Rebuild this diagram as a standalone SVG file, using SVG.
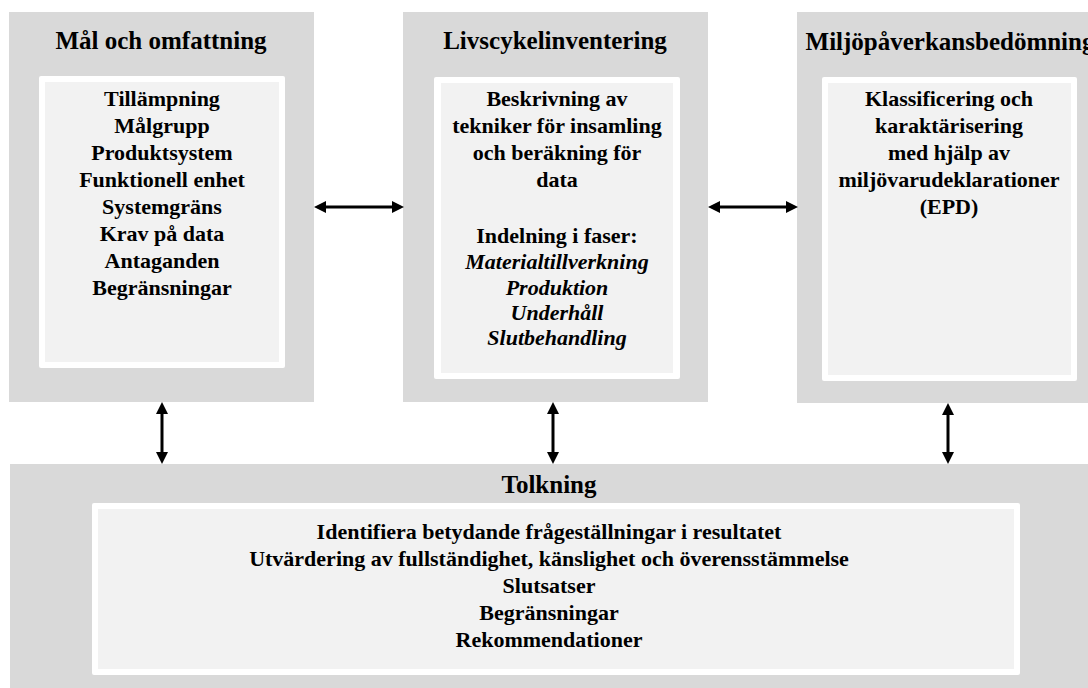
<svg xmlns="http://www.w3.org/2000/svg" width="1088" height="688" viewBox="0 0 1088 688">
  <style>
    .outer { fill: #d9d9d9; }
    .frame { fill: #ffffff; }
    .panel { fill: #f2f2f2; }
    text { font-weight: bold; fill: #000000; text-anchor: middle; }
    .title { font-size: 25px; }
    .item { font-size: 22px; }
    .phase { font-size: 22px; font-style: italic; }
    .link { stroke: #000000; stroke-width: 3; fill: none; marker-start: url(#head); marker-end: url(#head); }
  </style>
  <defs>
    <marker id="head" viewBox="0 0 10 10" refX="0" refY="5" markerWidth="12" markerHeight="12" markerUnits="userSpaceOnUse" orient="auto-start-reverse">
      <path d="M0,0 L10,5 L0,10 Z" fill="#000000"/>
    </marker>
  </defs>

  <g font-family="'Liberation Serif', 'Times New Roman', serif">
    <!-- Goal and scope -->
    <g id="mal-och-omfattning">
      <rect class="outer" x="9" y="12" width="305" height="390"/>
      <rect class="frame" x="39" y="76" width="246" height="292" rx="2"/>
      <rect class="panel" x="45" y="82" width="234" height="280"/>
      <text class="title" x="161" y="49">Mål och omfattning</text>
      <text class="item" x="162" y="106">Tillämpning</text>
      <text class="item" x="162" y="133">Målgrupp</text>
      <text class="item" x="162" y="160">Produktsystem</text>
      <text class="item" x="162" y="187">Funktionell enhet</text>
      <text class="item" x="162" y="214">Systemgräns</text>
      <text class="item" x="162" y="241">Krav på data</text>
      <text class="item" x="162" y="268">Antaganden</text>
      <text class="item" x="162" y="295">Begränsningar</text>
    </g>

    <!-- Life cycle inventory -->
    <g id="livscykelinventering">
      <rect class="outer" x="403" y="12" width="305" height="390"/>
      <rect class="frame" x="434" y="77" width="246" height="302" rx="2"/>
      <rect class="panel" x="441" y="83" width="232" height="290"/>
      <text class="title" x="555" y="49">Livscykelinventering</text>
      <text class="item" x="557" y="106">Beskrivning av</text>
      <text class="item" x="557" y="133">tekniker för insamling</text>
      <text class="item" x="557" y="160">och beräkning för</text>
      <text class="item" x="557" y="187">data</text>
      <text class="item" x="557" y="243">Indelning i faser:</text>
      <text class="phase" x="557" y="269">Materialtillverkning</text>
      <text class="phase" x="557" y="295">Produktion</text>
      <text class="phase" x="557" y="320">Underhåll</text>
      <text class="phase" x="557" y="345">Slutbehandling</text>
    </g>

    <!-- Impact assessment -->
    <g id="miljopaverkansbedomning">
      <rect class="outer" x="797" y="12" width="305" height="391"/>
      <rect class="frame" x="822" y="77" width="255" height="304" rx="2"/>
      <rect class="panel" x="828" y="83" width="243" height="292"/>
      <text class="title" x="950" y="50">Miljöpåverkansbedömning</text>
      <text class="item" x="949" y="106">Klassificering och</text>
      <text class="item" x="949" y="133">karaktärisering</text>
      <text class="item" x="949" y="160">med hjälp av</text>
      <text class="item" x="949" y="187">miljövarudeklarationer</text>
      <text class="item" x="949" y="214">(EPD)</text>
    </g>

    <!-- Interpretation -->
    <g id="tolkning">
      <rect class="outer" x="10" y="464" width="1080" height="226"/>
      <rect class="frame" x="92" y="503" width="928" height="172" rx="2"/>
      <rect class="panel" x="98" y="509" width="916" height="160"/>
      <text class="title" x="549" y="493">Tolkning</text>
      <text class="item" x="549" y="539">Identifiera betydande frågeställningar i resultatet</text>
      <text class="item" x="549" y="566">Utvärdering av fullständighet, känslighet och överensstämmelse</text>
      <text class="item" x="549" y="593">Slutsatser</text>
      <text class="item" x="549" y="620">Begränsningar</text>
      <text class="item" x="549" y="647">Rekommendationer</text>
    </g>
  </g>

  <!-- Two-way connectors -->
  <g id="connectors">
    <line class="link" x1="326" y1="207" x2="392" y2="207"/>
    <line class="link" x1="720" y1="207" x2="786" y2="207"/>
    <line class="link" x1="162" y1="414" x2="162" y2="452"/>
    <line class="link" x1="553" y1="414" x2="553" y2="452"/>
    <line class="link" x1="948" y1="415" x2="948" y2="452"/>
  </g>
</svg>
